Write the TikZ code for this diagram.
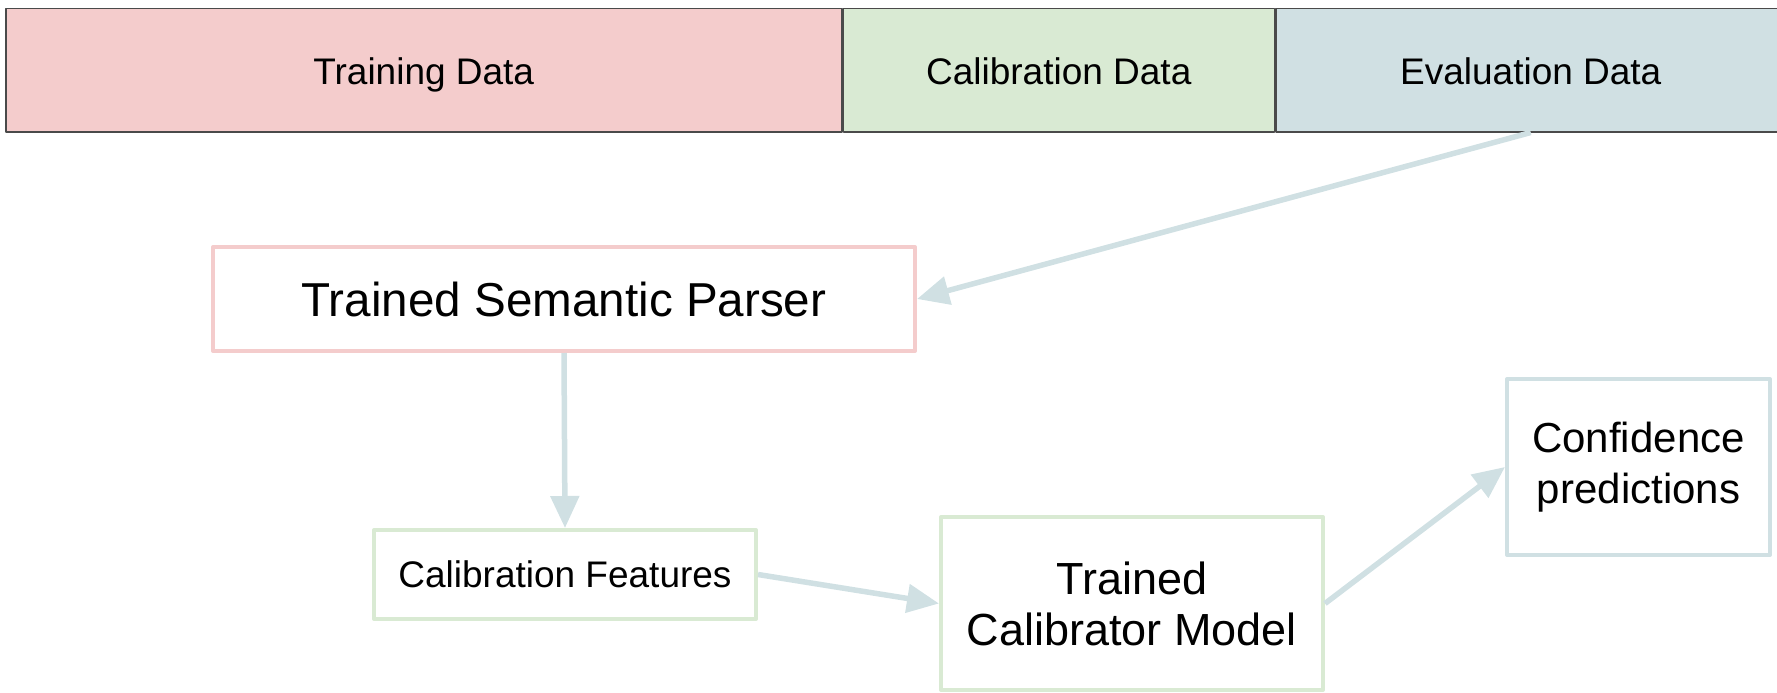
\documentclass[tikz,border=0pt]{standalone}
\usepackage{fontspec}
\setmainfont{Liberation Sans}
\usetikzlibrary{arrows.meta}
\definecolor{trainred}{HTML}{F4CCCC}
\definecolor{calibgreen}{HTML}{D9EAD3}
\definecolor{evalblue}{HTML}{D0E0E3}
\definecolor{bardark}{HTML}{4A4A4A}
\tikzset{
  databox/.style={draw=bardark, line width=1.5pt, minimum height=123pt, inner sep=0pt, anchor=north west, text height=32pt, text depth=4pt, font=\fontsize{37}{44}\selectfont},
  stagebox/.style={fill=white, line width=4pt, inner sep=0pt, align=center},
  flow/.style={->, draw=evalblue, line width=5.5pt},
}
\begin{document}
\begin{tikzpicture}[x=1pt, y=-1pt, line join=round, >={Stealth[length=32pt,width=28pt,inset=0pt]}]
	\useasboundingbox (0,0) rectangle (1777,693);
	% split of the data along the top
	\node[databox, fill=trainred, minimum width=836pt] (train) at (5,8) {Training Data};
	\node[databox, fill=calibgreen, minimum width=431pt] (calib) at (train.north east) {Calibration Data};
	\node[databox, fill=evalblue, minimum width=510pt] (eval) at (calib.north east) {Evaluation Data};
	% pipeline stages
	\node[stagebox, draw=trainred, minimum width=702pt, minimum height=104pt, font=\fontsize{47.6}{57}\selectfont] (parser) at (564,299) {Trained Semantic Parser};
	\node[stagebox, draw=calibgreen, minimum width=382pt, minimum height=89pt, font=\fontsize{37}{44}\selectfont] (feats) at (565,574.5) {Calibration Features};
	\node[stagebox, draw=calibgreen, minimum width=382pt, minimum height=173pt, font=\fontsize{45}{51}\selectfont] (calibrator) at (1132,603.5) {Trained\\Calibrator Model};
	\node[stagebox, draw=evalblue, minimum width=263pt, minimum height=176pt, font=\fontsize{42}{51}\selectfont] (conf) at (1638.5,467) {Confidence\\predictions};
	% connectors
	\draw[flow] (eval.south) -- (parser.east);
	\draw[flow] (parser.south) -- (feats.north);
	\draw[flow] (feats.east) -- (calibrator.west);
	\draw[flow] (calibrator.east) -- (conf.west);
\end{tikzpicture}
\end{document}
